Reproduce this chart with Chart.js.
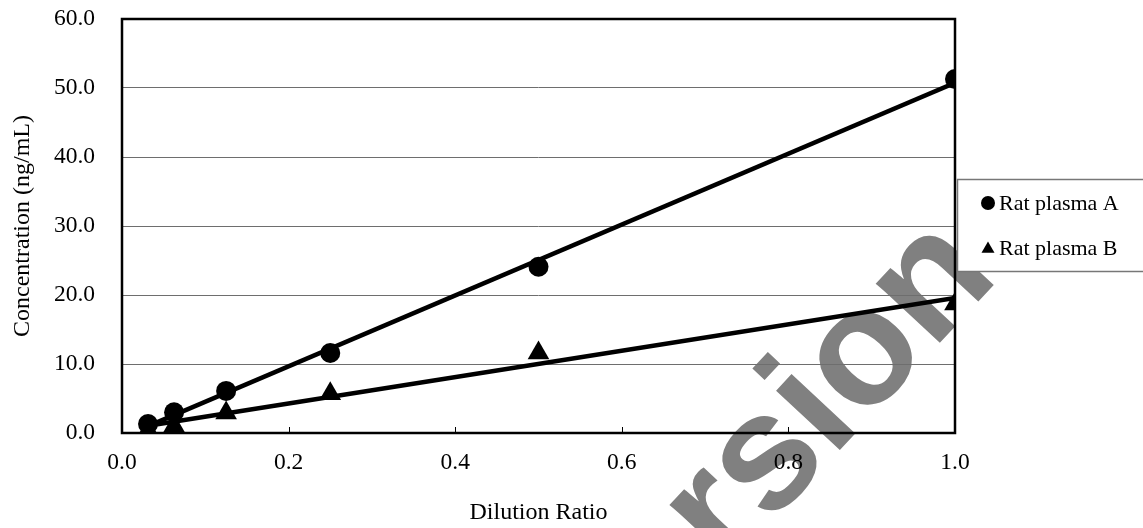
<!DOCTYPE html>
<html>
<head>
<meta charset="utf-8">
<script src="https://cdn.jsdelivr.net/npm/chart.js@4/dist/chart.umd.min.js"></script>
<style>
html,body{margin:0;padding:0;background:#fff}
#wrap{width:1143px;height:528px;position:relative}
</style>
</head>
<body>
<div id="wrap"><canvas id="c" width="1143" height="528"></canvas></div>
<script>
const dilution = [0.03125, 0.0625, 0.125, 0.25, 0.5, 1.0]
const plasmaA = [1.3, 3.0, 6.1, 11.6, 24.1, 51.3]
const plasmaB = [0.4, 1.0, 2.9, 5.7, 11.6, 18.7]
const seriesNames = ['Rat plasma A', 'Rat plasma B']
const xTicks = [0, 0.2, 0.4, 0.6, 0.8, 1.0]
const watermark = 'rsion'

const SERIF = '"Liberation Serif","Times New Roman",serif'

// least squares line across the data range (like an Excel trendline)
function trend(xs, ys){
  const n = xs.length
  const mx = xs.reduce((a,b)=>a+b,0)/n, my = ys.reduce((a,b)=>a+b,0)/n
  let sxy=0, sxx=0
  xs.forEach((x,i)=>{sxy+=(x-mx)*(ys[i]-my);sxx+=(x-mx)*(x-mx)})
  const k = sxy/sxx, b = my-k*mx
  const lo = Math.min(...xs), hi = Math.max(...xs)
  return [{x:lo,y:k*lo+b},{x:hi,y:k*hi+b}]
}
const pts = ys => dilution.map((x,i)=>({x, y:ys[i]}))

const chromePlugin = {
  id:'chrome',
  beforeDraw(chart){
    const ctx = chart.ctx
    ctx.save()
    ctx.fillStyle='#fff';ctx.fillRect(0,0,chart.width,chart.height)
    // watermark behind the chart
    ctx.translate(830,394);ctx.rotate(-47*Math.PI/180)
    ctx.font='bold 165px "Liberation Sans",Arial,sans-serif'
    ctx.fillStyle='#808080';ctx.textAlign='center';ctx.textBaseline='middle'
    ctx.fillText(watermark,0,0)
    ctx.restore()
  },
  afterDraw(chart){
    const ctx = chart.ctx, a = chart.chartArea, xs = chart.scales.x
    ctx.save()
    // inner tick marks on x axis
    ctx.strokeStyle='#000';ctx.lineWidth=1
    xTicks.forEach(v=>{
      const px = Math.round(xs.getPixelForValue(v))+0.5
      ctx.beginPath();ctx.moveTo(px,a.bottom);ctx.lineTo(px,a.bottom-6);ctx.stroke()
    })
    // plot frame
    ctx.lineWidth=2.5;ctx.strokeRect(a.left,a.top,a.right-a.left,a.bottom-a.top)
    // legend box
    ctx.fillStyle='#fff';ctx.fillRect(957.5,179.5,300,92)
    ctx.strokeStyle='#777';ctx.lineWidth=1.5
    ctx.strokeRect(957.5,179.5,300,92)
    const styles = [chart.data.datasets[0], chart.data.datasets[1]]
    const ys = [203, 248]
    ctx.font='22px '+SERIF;ctx.textBaseline='middle';ctx.textAlign='left'
    styles.forEach((ds,i)=>{
      ctx.fillStyle='#000'
      Chart.helpers.drawPoint(ctx,{pointStyle:ds.pointStyle,radius:i?7.5:7,rotation:0,borderWidth:0},988,ys[i]+(i?1:0))
      ctx.fillText(ds.label,999,ys[i]+1)
    })
    ctx.restore()
  }
}

new Chart(document.getElementById('c'),{
  type:'scatter',
  data:{datasets:[
    {label:seriesNames[0],data:pts(plasmaA),pointStyle:'circle',pointRadius:10,pointHoverRadius:10,backgroundColor:'#000',borderColor:'#000',borderWidth:0,order:0},
    {label:seriesNames[1],data:pts(plasmaB),pointStyle:'triangle',pointRadius:12.5,pointHoverRadius:12.5,backgroundColor:'#000',borderColor:'#000',borderWidth:0,order:0},
    {label:'trendA',data:trend(dilution,plasmaA),showLine:true,pointRadius:0,borderColor:'#000',borderWidth:4.5,order:1},
    {label:'trendB',data:trend(dilution,plasmaB),showLine:true,pointRadius:0,borderColor:'#000',borderWidth:4.5,order:1}
  ]},
  options:{
    responsive:false,animation:false,devicePixelRatio:1,
    layout:{autoPadding:false,padding:{top:19,right:188,left:0,bottom:0}},
    plugins:{legend:{display:false},tooltip:{enabled:false}},
    scales:{
      x:{type:'linear',min:0,max:1,
        afterFit(s){s.height=95},
        afterBuildTicks(s){s.ticks=xTicks.map(v=>({value:v}))},
        ticks:{callback:v=>v.toFixed(1),color:'#000',padding:16,font:{family:SERIF,size:23.5},maxRotation:0},
        grid:{display:false,drawTicks:false},
        border:{display:false},
        title:{display:true,text:'Dilution Ratio',color:'#000',font:{family:SERIF,size:24},padding:{top:0,bottom:1}}
      },
      y:{type:'linear',min:0,max:60,
        afterFit(s){s.width=122},
        ticks:{stepSize:10,callback:v=>v.toFixed(1),color:'#000',padding:0,font:{family:SERIF,size:23.5}},
        grid:{color:'#6e6e6e',lineWidth:1,drawTicks:true,tickLength:27,tickColor:'rgba(0,0,0,0)'},
        border:{display:false},
        title:{display:true,text:'Concentration (ng/mL)',color:'#000',font:{family:SERIF,size:24},padding:{top:8,bottom:0}}
      }
    }
  },
  plugins:[chromePlugin]
})
</script>
</body>
</html>
